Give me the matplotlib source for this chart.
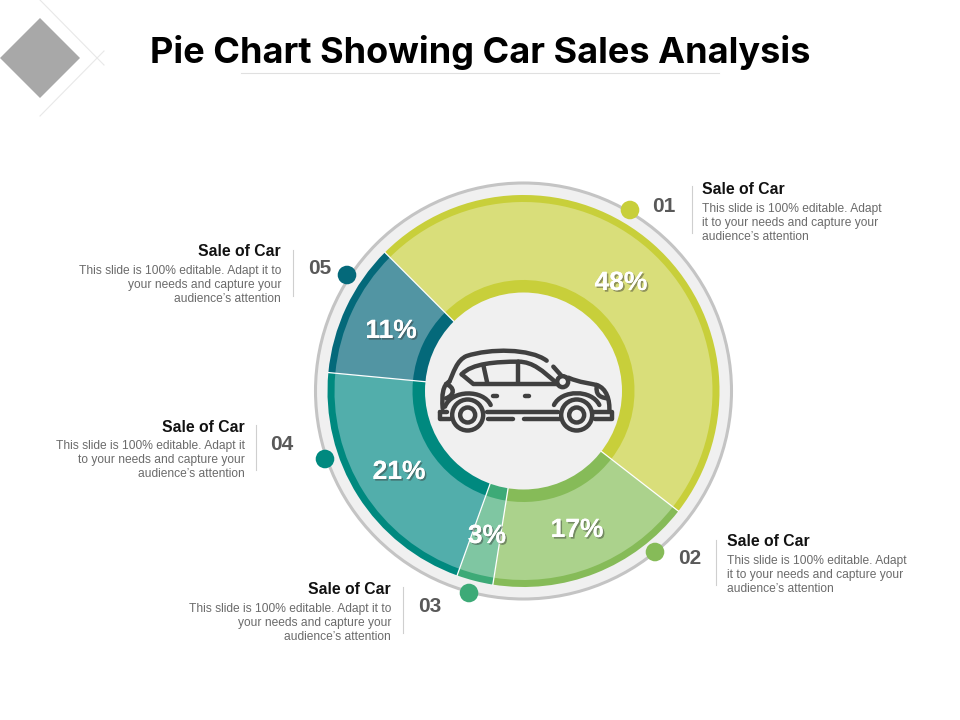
import matplotlib
matplotlib.use("Agg")
import matplotlib.pyplot as plt
import matplotlib.patheffects as pe
from matplotlib.patches import Circle, Polygon, PathPatch
from matplotlib.path import Path
import numpy as np

values = [48, 17, 3, 21, 11]
numbers = ["01", "02", "03", "04", "05"]
dark_colors = ["#c8cf3a", "#86bb58", "#3daa77", "#00897f", "#04697a"]
light_colors = ["#d9de7a", "#abd28c", "#7fc6a2", "#52aeab", "#5295a3"]
heading = "Sale of Car"
body_lines = [
    ["This slide is 100% editable. Adapt", "it to your needs and capture your", "audience\u2019s attention"],
    ["This slide is 100% editable. Adapt", "it to your needs and capture your", "audience\u2019s attention"],
    ["This slide is 100% editable. Adapt it to", "your needs and capture your", "audience\u2019s attention"],
    ["This slide is 100% editable. Adapt it", "to your needs and capture your", "audience\u2019s attention"],
    ["This slide is 100% editable. Adapt it to", "your needs and capture your", "audience\u2019s attention"],
]
title = "Pie Chart Showing Car Sales Analysis"

plt.rcParams["font.family"] = ["Liberation Sans", "DejaVu Sans"]
fig = plt.figure(figsize=(9.6, 7.2), dpi=100)
ax = fig.add_axes([0, 0, 1, 1])
H = 720
def Y(y):
    return H - y

CX, CY = 523.5, Y(391)
ax.add_patch(Circle((CX, CY), 208, fc="#f0f0f0", ec="#c4c4c4", lw=2.2, zorder=1))

def layer(radius, colors, z):
    w, _ = ax.pie(values, colors=colors, startangle=135, counterclock=False,
                  radius=radius, center=(CX, CY), frame=True,
                  wedgeprops=dict(linewidth=0))
    for p in w:
        p.set_zorder(z)
    return w

layer(196, dark_colors, 2)
layer(189, light_colors, 3)
layer(111, dark_colors, 4)
ax.add_patch(Circle((CX, CY), 98.5, fc="#f0f0f0", ec="none", zorder=6))

# separators between slices
cum = np.cumsum(values)
for c in cum:
    a = np.deg2rad(135 - 3.6 * c)
    ax.plot([CX, CX + 196 * np.cos(a)], [CY, CY + 196 * np.sin(a)],
            color="white", lw=0.9, zorder=5)

# percent labels
pct_pos = [(621, 283), (577, 530), (487, 536), (399, 472), (391, 331)]
shadow = [pe.withSimplePatchShadow(offset=(1.2, -1.2), shadow_rgbFace="#333333", alpha=0.45), pe.Normal()]
for v, (x, y) in zip(values, pct_pos):
    t = ax.text(x, Y(y), f"{v}%", color="white", fontsize=19, fontweight="bold",
                ha="center", va="center", zorder=8)
    t.set_path_effects(shadow)

# dots
dot_pos = [(630, 210), (655, 552), (469, 593), (325, 459), (347, 275)]
for col, (x, y) in zip(dark_colors, dot_pos):
    ax.add_patch(Circle((x, Y(y)), 9.3, fc=col, ec="none", zorder=7))

# callouts: heading x, align, heading y, number centre, divider x, divider span
call = [
    (702, "left", 190, (664, 207), 692, (186, 233)),
    (727, "left", 542, (689.5, 559), 716, (540, 585)),
    (391, "right", 590, (429.5, 607), 403, (587, 633)),
    (245, "right", 427, (282, 445), 256, (425, 470)),
    (281, "right", 252, (319.5, 269), 293, (250, 296)),
]
for num, lines, (hx, al, hy, (nx, ny), dx, (d0, d1)) in zip(numbers, body_lines, call):
    ax.text(hx, Y(hy), heading, fontsize=11.3, fontweight="bold", color="#111111",
            ha=al, va="center", zorder=8)
    for i, line in enumerate(lines):
        ax.text(hx, Y(hy + 19 + 14 * i), line, fontsize=8.65, color="#6b6b6b",
                ha=al, va="center", zorder=8)
    ax.text(nx, Y(ny), num, fontsize=15, fontweight="bold", color="#595959",
            ha="center", va="center", zorder=8)
    ax.plot([dx, dx], [Y(d0), Y(d1)], color="#cfcfcf", lw=0.8, zorder=8)

# title
ax.text(480.5, Y(52), title, fontsize=26, fontweight="bold", color="black",
        family="Inter", ha="center", va="center", zorder=8)
ax.plot([241, 719], [Y(73), Y(73)], color="#e0e0e0", lw=0.8)

# corner decoration
ax.add_patch(Polygon([(40, Y(18)), (80, Y(58)), (40, Y(98)), (0, Y(58))], fc="#a8a8a8", ec="none"))
ax.plot([40, 104], [Y(0), Y(65)], color="#e8e8e8", lw=0.8)
ax.plot([40, 104], [Y(116), Y(51)], color="#e8e8e8", lw=0.8)

# car icon: strokes in crop coordinates (3x, origin 430,340)
def P(x, y):
    return (430 + x / 3, Y(340 + y / 3))

CAR = "#404040"
LW = 3.2
def stroke(pts):
    xs, ys = zip(*[P(*p) for p in pts])
    ax.plot(xs, ys, color=CAR, lw=LW, solid_capstyle="round", solid_joinstyle="round", zorder=9)

def curve(pts):
    verts = [P(*p) for p in pts]
    codes = [Path.MOVETO] + [Path.CURVE4] * (len(verts) - 1)
    ax.add_patch(PathPatch(Path(verts, codes), fc="none", ec=CAR, lw=LW, capstyle="round", zorder=9))

# roof and rear
curve([(350, 62), (300, 25), (180, 25), (110, 48), (80, 60), (70, 100), (58, 125)])
curve([(58, 125), (38, 135), (35, 165), (38, 205)])
curve([(48, 132), (75, 142), (75, 165), (48, 175)])
# window
stroke([(95, 103), (130, 132), (385, 132)])
curve([(95, 103), (125, 70), (200, 65), (265, 65)])
curve([(265, 65), (310, 65), (340, 95), (375, 125)])
stroke([(160, 75), (172, 130)])
stroke([(263, 65), (263, 130)])
# mirror and bonnet
stroke([(370, 80), (395, 108)])
ax.add_patch(Circle(P(398, 125), 5.5, fc="#f0f0f0", ec=CAR, lw=LW, zorder=9))
curve([(415, 113), (450, 128), (480, 130), (500, 135)])
curve([(500, 135), (530, 145), (540, 180), (538, 215)])
curve([(500, 140), (498, 160), (505, 172), (532, 175)])
# body lines
stroke([(30, 215), (30, 236), (60, 236)])
stroke([(30, 215), (50, 215)])
stroke([(170, 215), (385, 215)])
stroke([(175, 236), (248, 236)])
stroke([(282, 236), (390, 236)])
stroke([(490, 215), (545, 215), (545, 236), (495, 236)])
stroke([(190, 167), (200, 167)])
stroke([(285, 167), (296, 167)])
# wheels and arches
for wx in (113, 440):
    wxp, wyp = P(wx, 225)
    ax.add_patch(Circle((wxp, wyp), 15.5, fc="#f0f0f0", ec=CAR, lw=LW, zorder=9))
    ax.add_patch(Circle((wxp, wyp), 7.5, fc="#f0f0f0", ec=CAR, lw=LW, zorder=9))
curve([(45, 200), (65, 148), (160, 148), (182, 195)])
curve([(372, 195), (395, 148), (485, 148), (508, 195)])

ax.set_xlim(0, 960)
ax.set_ylim(0, 720)
ax.set_aspect("auto")
ax.axis("off")
fig.savefig("out.png", dpi=100, facecolor="white")
